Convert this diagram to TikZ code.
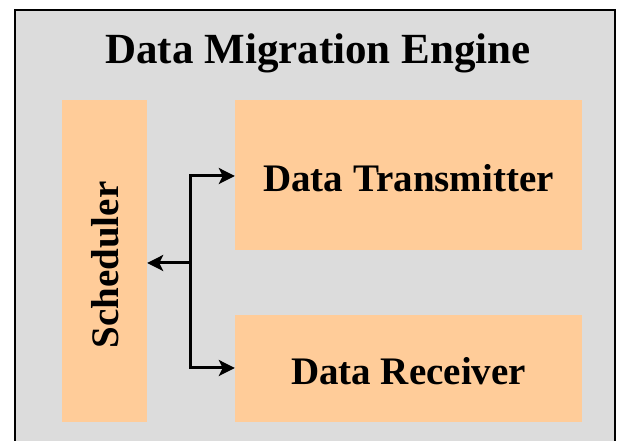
\documentclass[tikz,border=0pt]{standalone}
\usepackage{fontspec}
\setmainfont{Liberation Serif}
\usetikzlibrary{arrows.meta}
\definecolor{bggray}{HTML}{DCDCDC}
\definecolor{peach}{HTML}{FFCC99}
\begin{document}
\begin{tikzpicture}[x=1pt,y=1pt,
  blk/.style={fill=peach, draw=none, inner sep=0pt},
  lbl/.style={font=\bfseries\fontsize{39}{42}\selectfont},
  conn/.style={draw=black, line width=3pt, -{Stealth[length=16pt,width=16pt,inset=4pt]}}]
\useasboundingbox (0,0) rectangle (625,441);
\clip (0,0) rectangle (625,441);
\fill[white] (0,0) rectangle (625,441);
\draw[fill=bggray, line width=1.5pt] (15,-10) rectangle (615,431);
\node[font=\bfseries\fontsize{43}{46}\selectfont] (title) at (318,388) {Data Migration Engine};
\node[blk, minimum width=85pt, minimum height=322pt] (sched) at (104.5,180) {};
\node[lbl, rotate=90] (schedt) at (105,176) {Scheduler};
\node[blk, minimum width=347pt, minimum height=150pt] (tx) at (408.5,266) {};
\node[lbl] (txt) at (408.5,263) {Data Transmitter};
\node[blk, minimum width=347pt, minimum height=107pt] (rx) at (408.5,72.5) {};
\node[lbl] (rxt) at (408.5,70) {Data Receiver};
\coordinate (j) at (190,178);
\coordinate (jt) at (190,265);
\coordinate (jb) at (190,73);
\path[conn] (j) -- (sched.east |- j);
\path[conn] (j) -- (jt) -- (tx.west |- jt);
\path[conn] (j) -- (jb) -- (rx.west |- jb);
\end{tikzpicture}
\end{document}
